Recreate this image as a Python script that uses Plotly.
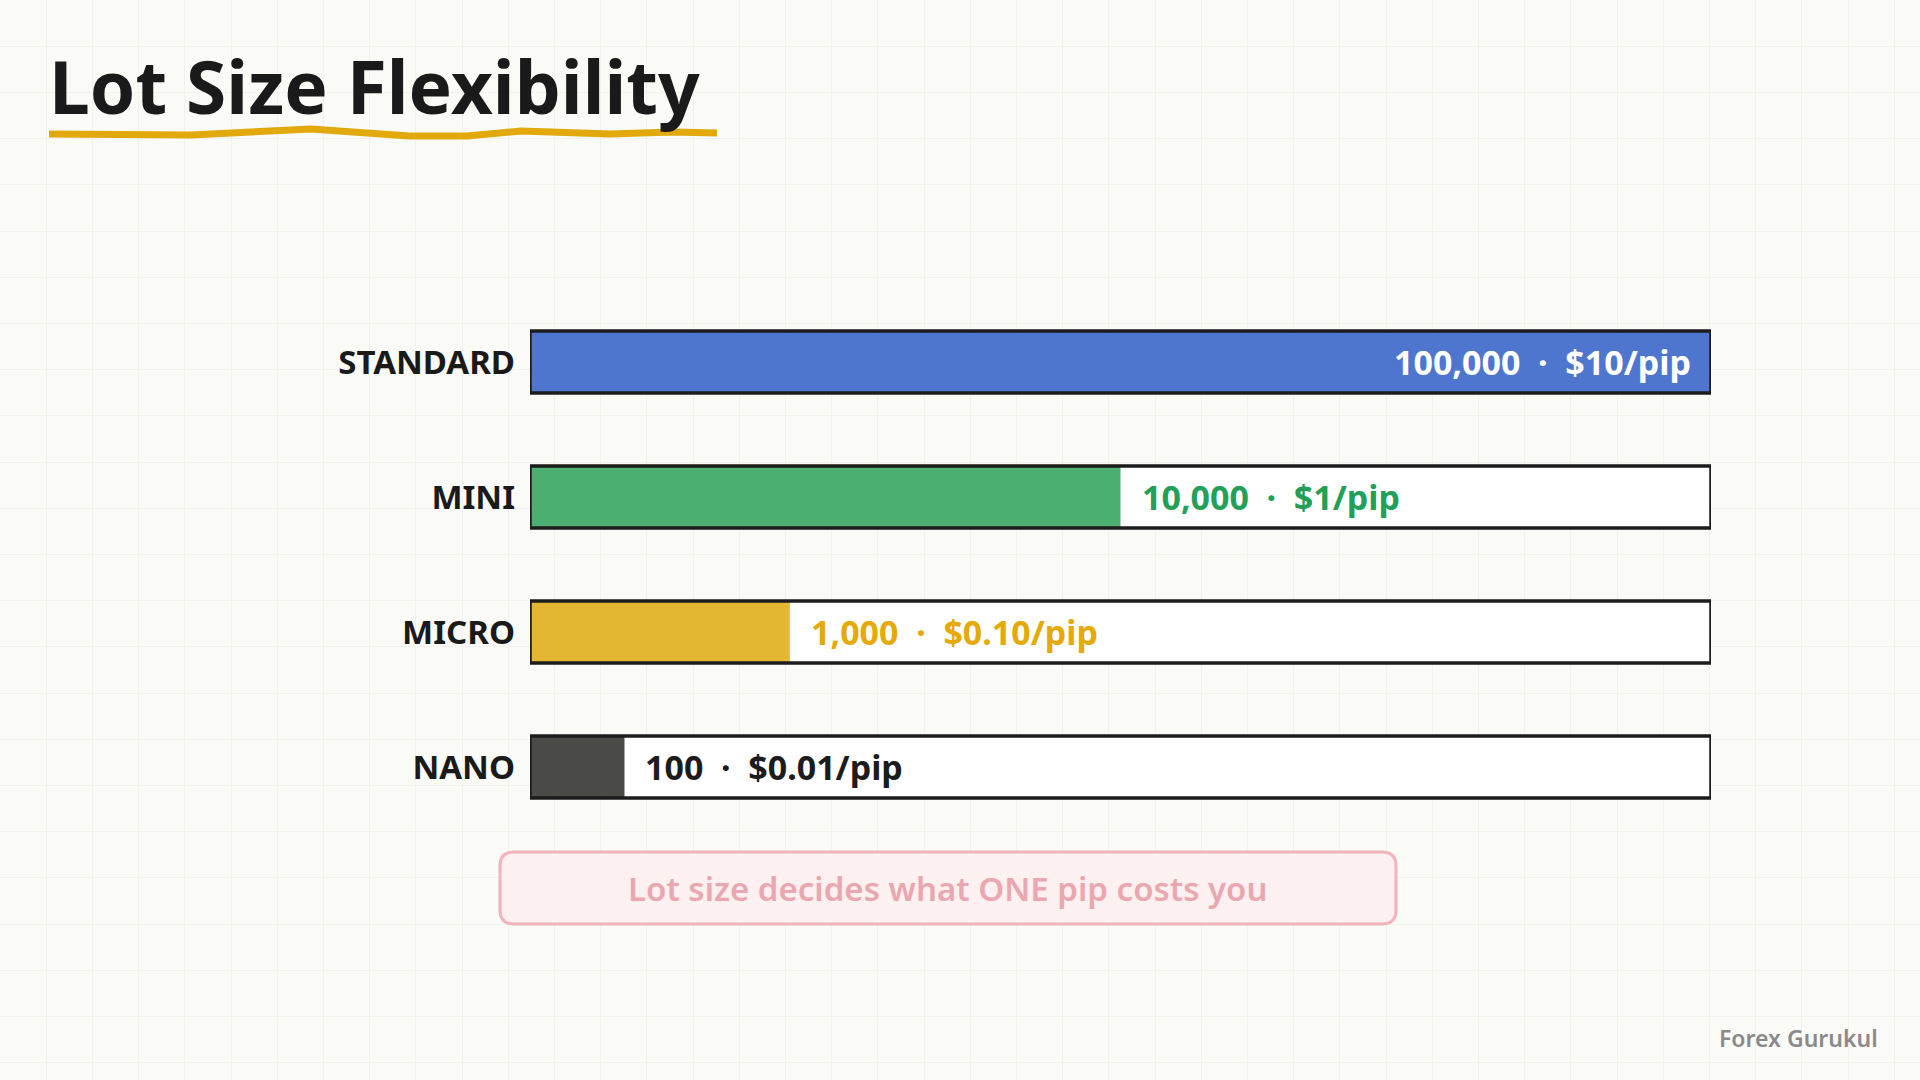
import plotly.graph_objects as go

# ---------------- data ----------------
categories = ["STANDARD", "MINI", "MICRO", "NANO"]
lot_units = [100000, 10000, 1000, 100]
pip_values = ["10", "1", "0.10", "0.01"]
fill_pct = [100, 50, 22, 8]          # visual fill of each bar (% of track)
bar_colors = ["#4F76CF", "#4BAF72", "#E3B732", "#4A4A47"]
label_colors = ["#FFFFFF", "#23A058", "#E5A908", "#1C1C1C"]

title_text = "Lot Size Flexibility"
callout_text = "Lot size decides what ONE pip costs you"
watermark_text = "Forex Gurukul"

W, H = 1920, 1080
FONT = "Noto Sans"


def px(x, y):
    return f"{x / W:.5f},{1 - y / H:.5f}"


fig = go.Figure()

# faint paper grid (background subplot)
fig.add_trace(go.Scatter(x=[0], y=[0], mode="markers", marker=dict(opacity=0),
                         xaxis="x", yaxis="y", hoverinfo="skip", showlegend=False))

# track (white)
fig.add_trace(go.Bar(y=categories, x=[100] * len(categories), orientation="h",
                     marker=dict(color="#FFFFFF", line=dict(width=0)),
                     width=0.46, xaxis="x2", yaxis="y2", hoverinfo="skip", showlegend=False))
# fill
fig.add_trace(go.Bar(y=categories, x=fill_pct, orientation="h",
                     marker=dict(color=bar_colors, line=dict(width=0)),
                     width=0.46, xaxis="x2", yaxis="y2", hoverinfo="skip", showlegend=False))
# outline
fig.add_trace(go.Bar(y=categories, x=[100] * len(categories), orientation="h",
                     marker=dict(color="rgba(0,0,0,0)", line=dict(color="#1C1C1C", width=3.5)),
                     width=0.46, xaxis="x2", yaxis="y2", hoverinfo="skip", showlegend=False))

annotations = []
for i, cat in enumerate(categories):
    txt = f"{lot_units[i]:,}\u00a0\u00a0·\u00a0\u00a0${pip_values[i]}/pip"
    if fill_pct[i] >= 100:
        annotations.append(dict(x=fill_pct[i], y=cat, xref="x2", yref="y2", text=txt,
                                xanchor="right", xshift=-18, showarrow=False,
                                font=dict(family=FONT, size=34, color=label_colors[i], weight=700)))
    else:
        annotations.append(dict(x=fill_pct[i], y=cat, xref="x2", yref="y2", text=txt,
                                xanchor="left", xshift=19, showarrow=False,
                                font=dict(family=FONT, size=34, color=label_colors[i], weight=700)))

annotations.append(dict(x=47 / W, y=1 - 85 / H, xref="paper", yref="paper", text=title_text,
                        xanchor="left", yanchor="middle", showarrow=False,
                        font=dict(family=FONT, size=73, color="#1A1A1A", weight=700)))
annotations.append(dict(x=948 / W, y=1 - 888 / H, xref="paper", yref="paper", text=callout_text,
                        xanchor="center", yanchor="middle", showarrow=False,
                        font=dict(family=FONT, size=33, color="#EBA7AF", weight=600)))
annotations.append(dict(x=1880 / W, y=1 - 1038 / H, xref="paper", yref="paper", text=watermark_text,
                        xanchor="right", yanchor="middle", showarrow=False,
                        font=dict(family=FONT, size=23, color="#8A8A8A", weight=600)))

# hand-drawn underline
ul_pts = [(49, 134), (191, 135), (311, 129), (409, 136), (467, 136),
          (521, 131), (610, 134), (673, 132), (717, 133)]
underline = "M " + " L ".join(px(x, y) for x, y in ul_pts)
# rounded callout box
x0, x1, y0, y1, r = 500, 1396, 852, 924, 14
box = (f"M {px(x0 + r, y0)} L {px(x1 - r, y0)} Q {px(x1, y0)} {px(x1, y0 + r)} "
       f"L {px(x1, y1 - r)} Q {px(x1, y1)} {px(x1 - r, y1)} L {px(x0 + r, y1)} "
       f"Q {px(x0, y1)} {px(x0, y1 - r)} L {px(x0, y0 + r)} Q {px(x0, y0)} {px(x0 + r, y0)} Z")

shapes = [
    dict(type="path", path=underline, xref="paper", yref="paper",
         line=dict(color="#E2A90C", width=7), layer="above"),
    dict(type="path", path=box, xref="paper", yref="paper",
         line=dict(color="#F2B4BA", width=3), fillcolor="#FDF0F0", layer="above"),
]

fig.update_layout(
    width=W, height=H,
    margin=dict(l=0, r=0, t=0, b=0),
    paper_bgcolor="#FAFAF7",
    plot_bgcolor="rgba(0,0,0,0)",
    barmode="overlay",
    showlegend=False,
    xaxis=dict(domain=[0, 1], range=[0, W], showgrid=True, gridcolor="#F2F2ED", gridwidth=1,
               dtick=46.2, tick0=0, zeroline=False, showticklabels=False, ticks="", fixedrange=True),
    yaxis=dict(domain=[0, 1], range=[H, 0], showgrid=True, gridcolor="#F2F2ED", gridwidth=1,
               dtick=46.2, tick0=0, zeroline=False, showticklabels=False, ticks="", fixedrange=True),
    xaxis2=dict(domain=[530 / W, 1711 / W], range=[0, 100], anchor="y2", visible=False,
                fixedrange=True),
    yaxis2=dict(domain=[1 - 834.5 / H, 1 - 294.5 / H], anchor="x2", type="category",
                categoryorder="array", categoryarray=categories, autorange="reversed",
                showgrid=False, zeroline=False, showline=False, ticks="",
                ticklabelstandoff=14,
                tickfont=dict(family=FONT, size=33, color="#1A1A1A", weight=700),
                fixedrange=True),
    annotations=annotations,
    shapes=shapes,
)

fig.write_html("out.html", config={"displayModeBar": False},
               post_script="document.body.style.margin='0';")
